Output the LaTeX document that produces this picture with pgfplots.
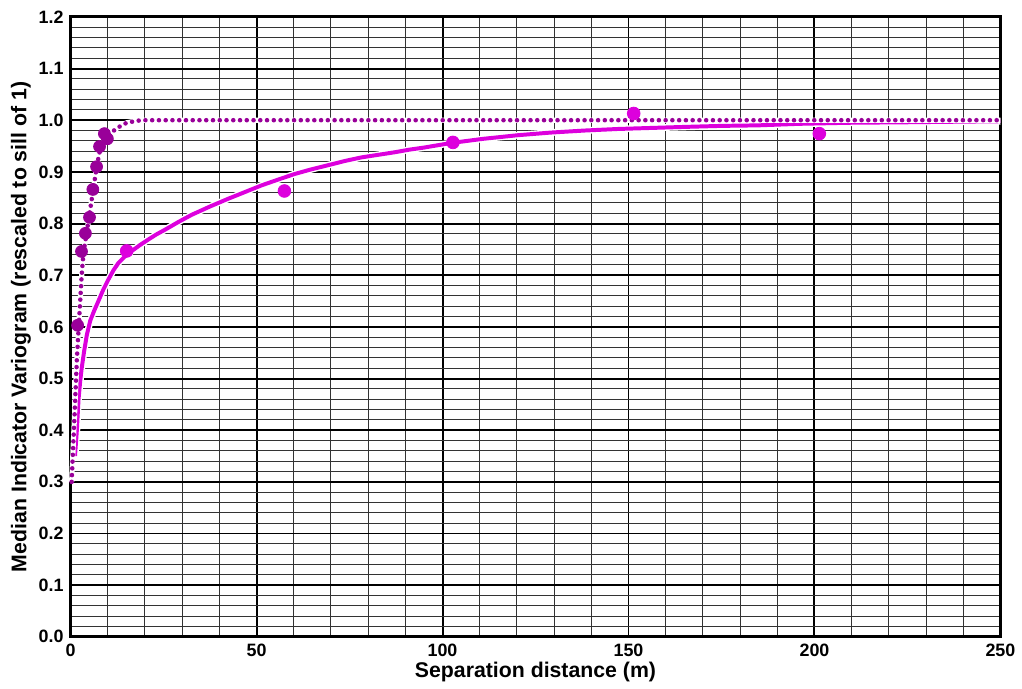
\documentclass[border=0pt]{standalone}
\usepackage{pgfplots}
\pgfplotsset{compat=1.18}
\usepackage{fontspec}
\setmainfont{Liberation Sans}
\definecolor{dpurple}{HTML}{990099}
\definecolor{mag}{HTML}{DD00DD}
\pgfplotstableread{
x y
0.3 0.30
0.8 0.383
1.26 0.46
1.7 0.537
2.2 0.60
2.6 0.65
3.0 0.70
3.5 0.745
4.4 0.785
5.3 0.828
6.2 0.870
7.06 0.911
8.0 0.945
9.0 0.960
10.2 0.971
11.3 0.978
12.4 0.984
13.7 0.990
15.1 0.995
16.5 0.997
17.8 0.999
20 1.0
40 1.0
60 1.0
80 1.0
100 1.0
120 1.0
140 1.0
160 1.0
180 1.0
200 1.0
220 1.0
250 1.0
}\dottedcurve
\pgfplotstableread{
x y
1.2 0.35
1.45 0.375
1.7 0.40
2.15 0.46
2.6 0.495
3.0 0.52
3.7 0.555
4.4 0.585
5.3 0.612
6.4 0.632
7.5 0.65
8.8 0.672
10.2 0.692
11.5 0.709
12.9 0.724
14.6 0.736
16.5 0.747
18.6 0.758
20.9 0.769
23.1 0.779
25.4 0.788
29.0 0.803
32.6 0.817
37.5 0.833
42.4 0.848
46.9 0.861
51.4 0.874
55.8 0.885
60.3 0.896
64.8 0.905
69.3 0.913
73.7 0.921
78.2 0.928
82.7 0.933
87.2 0.938
91.1 0.943
95 0.947
102.4 0.956
111 0.964
120.3 0.971
129 0.976
138.2 0.980
147.1 0.983
156 0.985
165 0.987
175 0.989
184.7 0.990
196 0.993
209 0.995
225 0.996
250 0.998
}\solidcurve
\pgfplotstableread{
x y
1.9 0.603
2.95 0.746
4.0 0.781
5.1 0.812
6.0 0.866
7.0 0.910
7.8 0.949
9.1 0.974
9.9 0.964
}\dottedpts
\pgfplotstableread{
x y
15.1 0.747
57.5 0.863
102.8 0.957
151.4 1.013
201.3 0.974
}\solidpts
\begin{document}
\begin{tikzpicture}
\begin{axis}[
  scale only axis,
  width=468pt, height=312pt,
  xmin=0, xmax=250, ymin=0, ymax=1.2,
  xtick={0,50,...,250},
  ytick={0,0.1,...,1.2},
  minor x tick num=4,
  minor y tick num=4,
  grid=both,
  major grid style={black, line width=1pt},
  minor grid style={black!80, line width=0.5pt},
  axis line style={black, line width=1.6pt},
  major tick length=0pt, minor tick length=0pt,
  /pgf/number format/assume math mode=true,
  ticklabel style={font=\bfseries\fontsize{9}{11}\selectfont},
  yticklabel style={/pgf/number format/fixed, /pgf/number format/fixed zerofill, /pgf/number format/precision=1},
  xticklabel style={/pgf/number format/fixed},
  scaled y ticks=false,
  xlabel={Separation distance (m)},
  ylabel={Median Indicator Variogram (rescaled to sill of 1)},
  label style={font=\bfseries\fontsize{10.7}{13}\selectfont},
  xlabel style={yshift=4pt},
  ylabel style={yshift=-3pt},
  clip=false,
]
\addplot[only marks, mark=*, mark size=3pt, draw=dpurple, fill=dpurple] table {\dottedpts};
\addplot[only marks, mark=*, mark size=3.2pt, draw=mag, fill=mag] table {\solidpts};
\addplot[white, line width=3.4pt] table {\solidcurve};
\addplot[mag, line width=2pt, line join=round] table {\solidcurve};
\addplot[white, line width=2.6pt] table {\dottedcurve};
\addplot[dpurple, line width=2.3pt, line cap=round, dash pattern=on 0pt off 3.4pt] table {\dottedcurve};
\end{axis}
\path ([shift={(-35.5pt,-25pt)}]current axis.south west) rectangle ([shift={(8.5pt,8.5pt)}]current axis.north east);
\end{tikzpicture}
\end{document}
